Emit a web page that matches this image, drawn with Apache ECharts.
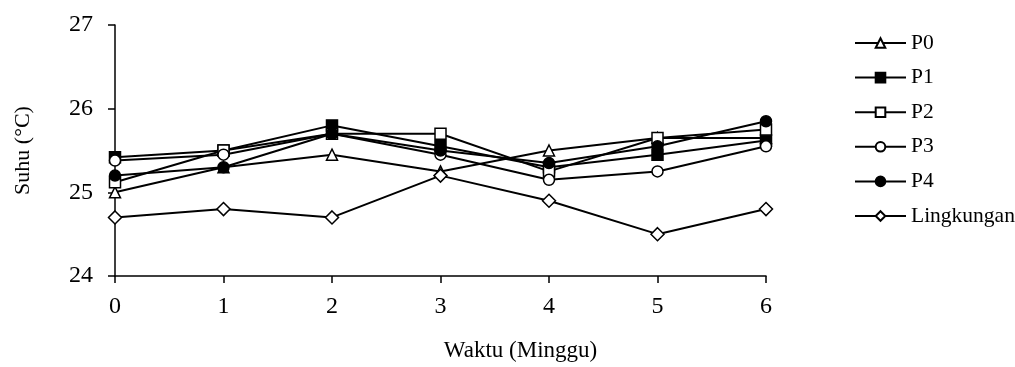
<!DOCTYPE html>
<html><head><meta charset="utf-8">
<script src="https://cdn.jsdelivr.net/npm/echarts@6/dist/echarts.min.js"></script>
<style>html,body{margin:0;padding:0;background:#fff}#c{width:1015px;height:367px}</style>
</head><body><div id="c"></div>
<script>
const weeks = [0, 1, 2, 3, 4, 5, 6];
const yTicks = [24, 25, 26, 27];
const P0 = [25.0, 25.3, 25.45, 25.25, 25.5, 25.65, 25.65];
const P1 = [25.42, 25.5, 25.8, 25.55, 25.3, 25.45, 25.62];
const P2 = [25.12, 25.5, 25.7, 25.7, 25.25, 25.65, 25.75];
const P3 = [25.38, 25.45, 25.7, 25.45, 25.15, 25.25, 25.55];
const P4 = [25.2, 25.3, 25.7, 25.5, 25.35, 25.55, 25.85];
const Lingkungan = [24.7, 24.8, 24.7, 25.2, 24.9, 24.5, 24.8];
const seriesNames = ['P0', 'P1', 'P2', 'P3', 'P4', 'Lingkungan'];
const seriesData = [P0, P1, P2, P3, P4, Lingkungan];

const styles = [
  {symbol: 'triangle', size: 11, fill: '#fff'},
  {symbol: 'rect', size: 11, fill: '#000'},
  {symbol: 'rect', size: 11, fill: '#fff'},
  {symbol: 'circle', size: 11, fill: '#fff'},
  {symbol: 'circle', size: 11, fill: '#000'},
  {symbol: 'diamond', size: 13, fill: '#fff'}
];
const font = "'Liberation Serif', 'Times New Roman', serif";
const chart = echarts.init(document.getElementById('c'), null, {renderer: 'canvas'});
chart.setOption({
  animation: false,
  backgroundColor: '#fff',
  grid: {left: 115, right: 249, top: 25, bottom: 89},
  legend: {
    orient: 'vertical', left: 849, top: 27,
    itemWidth: 51, itemHeight: 12, itemGap: 12.6,
    textStyle: {fontFamily: font, fontSize: 21.5, color: '#000'},
    data: seriesNames
  },
  xAxis: {
    type: 'value', min: 0, max: 6, interval: 1,
    name: 'Waktu (Minggu)', nameLocation: 'middle', nameGap: 63,
    nameTextStyle: {fontFamily: font, fontSize: 23, color: '#000', padding: [0, 0, 0, 160]},
    axisLine: {show: true, lineStyle: {color: '#000', width: 1.5}},
    axisTick: {show: true, length: 7, lineStyle: {color: '#000', width: 1.5}},
    axisLabel: {fontFamily: font, fontSize: 24, color: '#000', margin: 19,
      formatter: v => weeks.includes(v) ? String(v) : ''},
    splitLine: {show: false}
  },
  yAxis: {
    type: 'value', min: yTicks[0], max: yTicks[yTicks.length - 1], interval: 1,
    name: 'Suhu (°C)', nameLocation: 'middle', nameGap: 81, nameRotate: 90,
    nameTextStyle: {fontFamily: font, fontSize: 22, color: '#000'},
    axisLine: {show: true, lineStyle: {color: '#000', width: 1.5}},
    axisTick: {show: true, length: 7, lineStyle: {color: '#000', width: 1.5}},
    axisLabel: {fontFamily: font, fontSize: 24, color: '#000', margin: 22},
    splitLine: {show: false}
  },
  series: seriesNames.map((n, i) => ({
    name: n, type: 'line',
    data: seriesData[i].map((v, j) => [weeks[j], v]),
    symbol: styles[i].symbol, symbolSize: styles[i].size, showAllSymbol: true,
    lineStyle: {color: '#000', width: 2},
    itemStyle: {color: styles[i].fill, borderColor: '#000', borderWidth: 1.5},
    z: 2 + i
  }))
});
</script></body></html>
